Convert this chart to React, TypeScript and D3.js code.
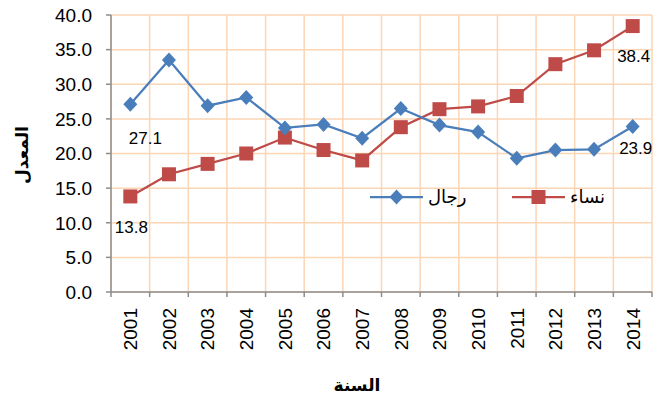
import { useEffect, useRef } from 'react';
import * as d3 from 'd3';

const years = ['2001', '2002', '2003', '2004', '2005', '2006', '2007', '2008', '2009', '2010', '2011', '2012', '2013', '2014'];
const men = [27.1, 33.5, 26.9, 28.1, 23.7, 24.2, 22.2, 26.5, 24.1, 23.1, 19.3, 20.5, 20.6, 23.9];
const women = [13.8, 17.0, 18.5, 20.0, 22.3, 20.5, 19.0, 23.8, 26.4, 26.8, 28.3, 32.9, 34.9, 38.4];
const yTicks = [0, 5, 10, 15, 20, 25, 30, 35, 40];

const FONT = '"Liberation Sans", Arial, "DejaVu Sans", sans-serif';
const BLUE = '#4a7ebb';
const RED = '#be4b48';
const GRID = '#fcd5b4';
const AXIS = '#8c8c8c';

// marker shapes, centred on 0,0
const DIAMOND = 'M0,-7.5L7,0L0,7.5L-7,0Z';
const SQUARE = 'M-7,-7H7V7H-7Z';

export default function App() {
  const svgRef = useRef<SVGSVGElement>(null);

  useEffect(() => {
    const svg = d3.select(svgRef.current);
    svg.selectAll('*').remove();

    const left = 111, right = 652, top = 15, bottom = 292;

    const x = d3.scaleBand().domain(years).range([left, right]);
    const y = d3.scaleLinear().domain([0, 40]).range([bottom, top]);
    const cx = (i: number) => x(years[i])! + x.bandwidth() / 2;

    // grid
    const g = svg.append('g');
    yTicks.forEach(t => {
      g.append('line')
        .attr('x1', left).attr('x2', right)
        .attr('y1', y(t)).attr('y2', y(t))
        .attr('stroke', GRID).attr('stroke-width', 1.5);
    });
    const bounds = years.map(d => x(d)!).concat([right]);
    bounds.forEach(b => {
      g.append('line')
        .attr('x1', b).attr('x2', b)
        .attr('y1', top).attr('y2', bottom)
        .attr('stroke', GRID).attr('stroke-width', 1.5);
    });

    // axes
    g.append('line')
      .attr('x1', left).attr('x2', left).attr('y1', top).attr('y2', bottom)
      .attr('stroke', AXIS).attr('stroke-width', 1.5);
    g.append('line')
      .attr('x1', left).attr('x2', right).attr('y1', bottom).attr('y2', bottom)
      .attr('stroke', AXIS).attr('stroke-width', 1.5);

    yTicks.forEach(t => {
      g.append('line')
        .attr('x1', left - 5).attr('x2', left).attr('y1', y(t)).attr('y2', y(t))
        .attr('stroke', AXIS).attr('stroke-width', 1.5);
      g.append('text')
        .attr('x', 92).attr('y', y(t)).attr('dy', '0.36em')
        .attr('text-anchor', 'end')
        .style('font-family', FONT).style('font-size', '19px').attr('fill', '#000')
        .text(t.toFixed(1));
    });

    bounds.forEach(b => {
      g.append('line')
        .attr('x1', b).attr('x2', b).attr('y1', bottom).attr('y2', bottom + 5)
        .attr('stroke', AXIS).attr('stroke-width', 1.5);
    });

    years.forEach((d, i) => {
      g.append('text')
        .attr('transform', `translate(${cx(i)},308) rotate(-90)`)
        .attr('dy', '0.36em')
        .attr('text-anchor', 'end')
        .style('font-family', FONT).style('font-size', '19px').attr('fill', '#000')
        .text(d);
    });

    // titles
    g.append('text')
      .attr('x', 357).attr('y', 391)
      .attr('text-anchor', 'middle')
      .style('font-family', FONT).style('font-size', '17px').style('font-weight', 'bold')
      .text('السنة');
    g.append('text')
      .attr('transform', 'translate(22,155) rotate(-90)')
      .attr('dy', '0.35em')
      .attr('text-anchor', 'middle')
      .style('font-family', FONT).style('font-size', '17px').style('font-weight', 'bold')
      .text('المعدل');

    const line = d3.line<number>()
      .x((d, i) => cx(i))
      .y(d => y(d));

    // series
    const drawSeries = (vals: number[], color: string, marker: string) => {
      g.append('path')
        .datum(vals)
        .attr('fill', 'none')
        .attr('stroke', color)
        .attr('stroke-width', 2.25)
        .attr('d', line);
      g.selectAll(null)
        .data(vals)
        .enter()
        .append('path')
        .attr('d', marker)
        .attr('transform', (d, i) => `translate(${cx(i)},${y(d)})`)
        .attr('fill', color);
    };
    drawSeries(women, RED, SQUARE);
    drawSeries(men, BLUE, DIAMOND);

    // data labels (first and last points)
    const label = (xx: number, yy: number, v: number) => {
      g.append('text')
        .attr('x', xx).attr('y', yy)
        .attr('text-anchor', 'middle')
        .style('font-family', FONT).style('font-size', '17px').attr('fill', '#000')
        .text(v.toFixed(1));
    };
    const last = years.length - 1;
    label(cx(0) + 15, y(men[0]) + 40, men[0]);
    label(cx(0) + 1, y(women[0]) + 37, women[0]);
    label(cx(last) + 1, y(women[last]) + 36, women[last]);
    label(cx(last) + 3, y(men[last]) + 28, men[last]);

    // legend
    const legend = g.append('g').attr('transform', 'translate(0,197)');
    const items = [
      { name: 'رجال', color: BLUE, marker: DIAMOND, x0: 370 },
      { name: 'نساء', color: RED, marker: SQUARE, x0: 512 },
    ];
    items.forEach(it => {
      legend.append('line')
        .attr('x1', it.x0).attr('x2', it.x0 + 53)
        .attr('stroke', it.color).attr('stroke-width', 2.25);
      legend.append('path')
        .attr('d', it.marker)
        .attr('transform', `translate(${it.x0 + 26.5},0)`)
        .attr('fill', it.color);
      legend.append('text')
        .attr('x', it.x0 + 58).attr('dy', '0.35em')
        .attr('text-anchor', 'start')
        .style('font-family', FONT).style('font-size', '18px').attr('fill', '#000')
        .text(it.name);
    });
  }, []);

  return (
    <svg
      ref={svgRef}
      width={669}
      height={401}
      style={{ position: 'absolute', left: 0, top: 0, background: '#fff' }}
    />
  );
}
